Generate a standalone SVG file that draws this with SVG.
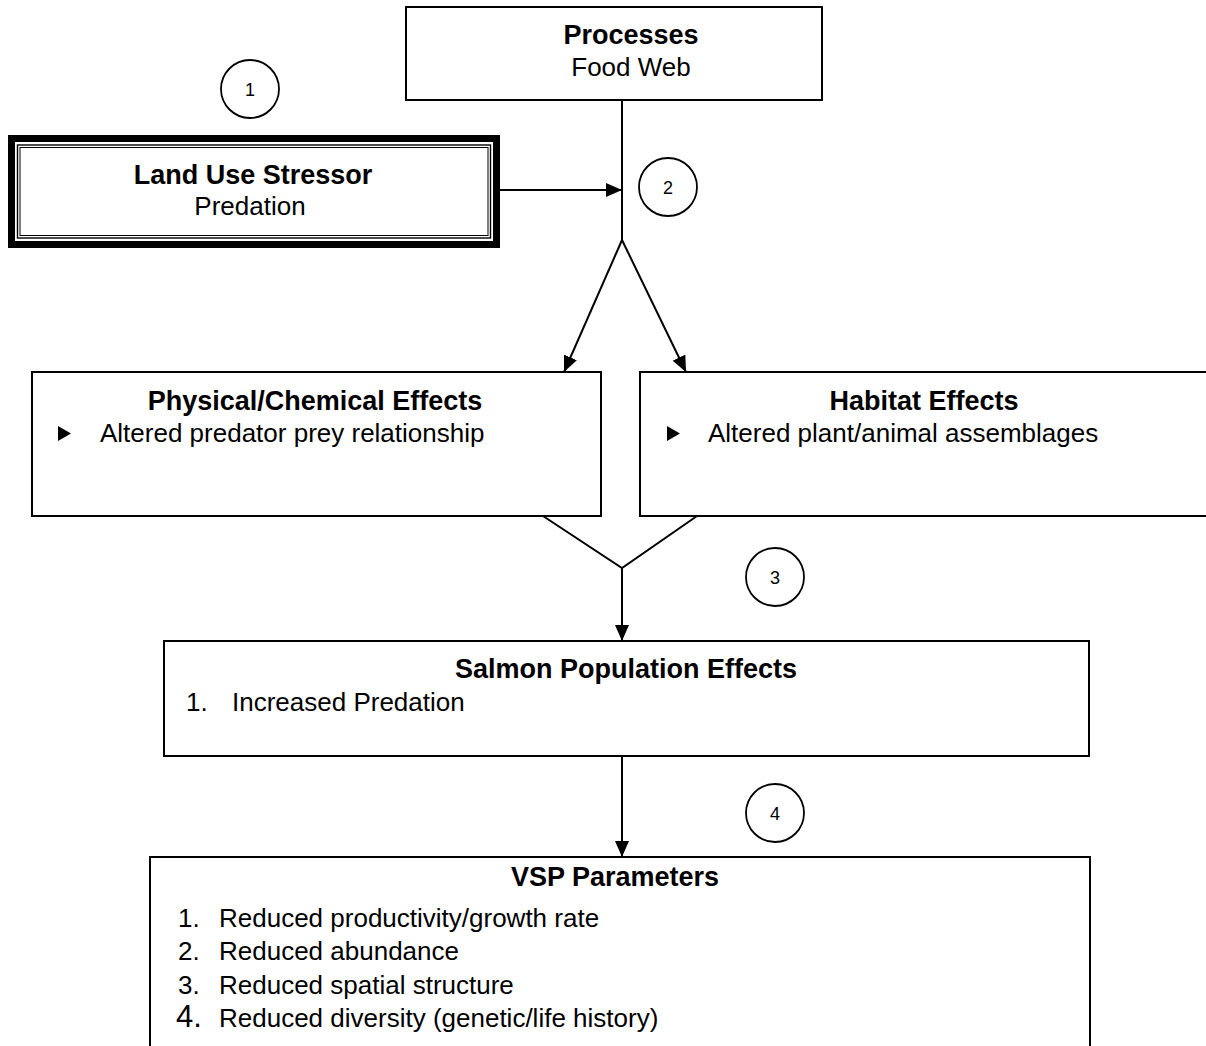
<svg xmlns="http://www.w3.org/2000/svg" width="1206" height="1046" viewBox="0 0 1206 1046">
  <style>
    .box { fill: #fff; stroke: #000; stroke-width: 2; }
    .ln { fill: none; stroke: #000; stroke-width: 2; }
    .t { font-family: "Liberation Sans", Arial, sans-serif; font-size: 26px; fill: #000; }
    .b { font-family: "Liberation Sans", Arial, sans-serif; font-size: 27px; font-weight: bold; fill: #000; }
    .c { font-family: "Liberation Sans", Arial, sans-serif; font-size: 18px; fill: #000; }
    .mid { text-anchor: middle; }
    .circ { fill: #fff; stroke: #000; stroke-width: 1.8; }
  </style>
  <defs>
    <marker id="arrow" markerUnits="userSpaceOnUse" markerWidth="16" markerHeight="14" refX="16" refY="7" orient="auto">
      <path d="M0,0 L16,7 L0,14 Z" fill="#000"/>
    </marker>
  </defs>
  <rect width="1206" height="1046" fill="#fff"/>

  <!-- connectors -->
  <g id="connectors">
    <line class="ln" x1="622" y1="100" x2="622" y2="240"/>
    <line class="ln" x1="500" y1="190" x2="622" y2="190" marker-end="url(#arrow)"/>
    <line class="ln" x1="622" y1="240" x2="564" y2="372" marker-end="url(#arrow)"/>
    <line class="ln" x1="622" y1="240" x2="686" y2="372" marker-end="url(#arrow)"/>
    <polyline class="ln" points="543,516 622,568 697,516"/>
    <line class="ln" x1="622" y1="568" x2="622" y2="641" marker-end="url(#arrow)"/>
    <line class="ln" x1="622" y1="757" x2="622" y2="857" marker-end="url(#arrow)"/>
  </g>

  <!-- Processes -->
  <g id="processes">
    <rect class="box" x="406" y="7" width="416" height="93"/>
    <text class="b mid" x="631" y="44">Processes</text>
    <text class="t mid" x="631" y="76">Food Web</text>
  </g>

  <!-- Land Use Stressor (heavy double frame) -->
  <g id="stressor">
    <rect x="11.5" y="138.5" width="485" height="106" fill="#fff" stroke="#000" stroke-width="7"/>
    <rect x="17.5" y="145" width="473" height="93" fill="none" stroke="#000" stroke-width="1.4"/>
    <rect x="20" y="147.5" width="468" height="88" fill="none" stroke="#000" stroke-width="1"/>
    <text class="b mid" x="253" y="184">Land Use Stressor</text>
    <text class="t mid" x="250" y="215">Predation</text>
  </g>

  <!-- step markers -->
  <g id="step1"><circle class="circ" cx="250" cy="89" r="29"/><text class="c mid" x="250" y="95.5">1</text></g>
  <g id="step2"><circle class="circ" cx="668" cy="187" r="29"/><text class="c mid" x="668" y="193.5">2</text></g>
  <g id="step3"><circle class="circ" cx="775" cy="577" r="29"/><text class="c mid" x="775" y="583.5">3</text></g>
  <g id="step4"><circle class="circ" cx="775" cy="813" r="29"/><text class="c mid" x="775" y="819.5">4</text></g>

  <!-- Physical/Chemical Effects -->
  <g id="physical">
    <rect class="box" x="32" y="372" width="569" height="144"/>
    <text class="b mid" x="315" y="410">Physical/Chemical Effects</text>
    <polygon points="58,426 71,433.5 58,441" fill="#000"/>
    <text class="t" x="100" y="442">Altered predator prey relationship</text>
  </g>

  <!-- Habitat Effects -->
  <g id="habitat">
    <rect class="box" x="640" y="372" width="580" height="144"/>
    <text class="b mid" x="924" y="410">Habitat Effects</text>
    <polygon points="667,426 680,433.5 667,441" fill="#000"/>
    <text class="t" x="708" y="442">Altered plant/animal assemblages</text>
  </g>

  <!-- Salmon Population Effects -->
  <g id="salmon">
    <rect class="box" x="164" y="641" width="925" height="115"/>
    <text class="b mid" x="626" y="678">Salmon Population Effects</text>
    <text class="t" x="186" y="711">1.</text>
    <text class="t" x="232" y="711">Increased Predation</text>
  </g>

  <!-- VSP Parameters -->
  <g id="vsp">
    <rect class="box" x="150" y="857" width="940" height="200"/>
    <text class="b mid" x="615" y="886">VSP Parameters</text>
    <text class="t" x="178" y="927">1.</text>
    <text class="t" x="219" y="927">Reduced productivity/growth rate</text>
    <text class="t" x="178" y="960">2.</text>
    <text class="t" x="219" y="960">Reduced abundance</text>
    <text class="t" x="178" y="994">3.</text>
    <text class="t" x="219" y="994">Reduced spatial structure</text>
    <text class="t" x="176" y="1027" style="font-size:31px">4.</text>
    <text class="t" x="219" y="1027">Reduced diversity (genetic/life history)</text>
  </g>
</svg>
